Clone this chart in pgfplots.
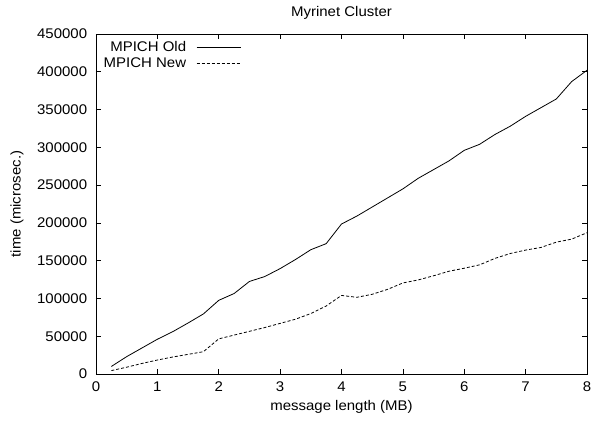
\documentclass[border=0pt]{standalone}
\usepackage{fontspec}
\setmainfont{Liberation Sans}[FakeStretch=1.07]
\usepackage{pgfplots}
\pgfplotsset{compat=1.18}
\usepackage{pgfplotstable}

% message length (MB) vs time (microsec.)
\pgfplotstableread{
mb   old     new
0.25 10000   4500
0.50 23000   9000
0.75 34500   14000
1.00 46000   18500
1.25 56000   22500
1.50 67500   26000
1.75 79500   29500
2.00 97500   46500
2.25 106500  51500
2.50 122500  56500
2.75 129000  61500
3.00 139500  67000
3.25 151500  72500
3.50 164500  80000
3.75 172500  90000
4.00 198500  104000
4.25 209000  101500
4.50 221000  105500
4.75 233000  112000
5.00 245000  120500
5.25 259000  124500
5.50 270500  130000
5.75 282000  136000
6.00 296000  140000
6.25 304000  144500
6.50 317000  153000
6.75 328000  159500
7.00 341000  164000
7.25 352500  167500
7.50 364000  174500
7.75 387000  178500
8.00 402000  187000
}\myrinet

\begin{document}
\fontsize{14}{16}\selectfont
\begin{tikzpicture}
\useasboundingbox (-96pt,-47pt) rectangle (495pt,374pt);
\begin{axis}[
	scale only axis,
	width=491pt, height=340pt,
	xmin=0, xmax=8, ymin=0, ymax=450000,
	xtick={0,1,...,8},
	ytick={0,50000,...,450000},
	scaled y ticks=false,
	/pgf/number format/assume math mode=true,
	yticklabel style={/pgf/number format/fixed,/pgf/number format/1000 sep={},xshift=-4pt},
	xticklabel style={yshift=-3pt},
	tick align=inside,
	major tick length=5pt,
	tick style={black, line width=0.6pt},
	axis line style={line width=0.8pt},
	font=\fontsize{14}{16}\selectfont,
	title={Myrinet Cluster},
	title style={at={(0.5,1)},anchor=center,yshift=15pt},
	xlabel={message length (MB)},
	ylabel={time (microsec.)},
	xlabel style={at={(axis description cs:0.5,0)},anchor=center,yshift=-33pt},
	ylabel style={at={(axis description cs:0,0.5)},anchor=center,rotate=0,xshift=0pt,yshift=79pt},
	legend cell align=right,
	legend plot pos=right,
	legend image code/.code={\path[draw=none,fill=none] (0pt,-2pt) rectangle (52pt,2pt);
		\draw[#1] (8pt,0pt) -- (52pt,0pt);},
	legend style={at={(0,1)},anchor=north west,xshift=5pt,yshift=-5pt,
		draw=none,fill=none,inner sep=0pt,row sep=-1pt,
		nodes={inner sep=2.5pt},font=\fontsize{14}{16}\selectfont},
]
\addplot[black, line width=0.8pt] table[x=mb,y=old] {\myrinet};
\addlegendentry{MPICH Old}
\addplot[black, line width=0.8pt, dash pattern=on 3pt off 2pt] table[x=mb,y=new] {\myrinet};
\addlegendentry{MPICH New}
\end{axis}
\end{tikzpicture}
\end{document}
